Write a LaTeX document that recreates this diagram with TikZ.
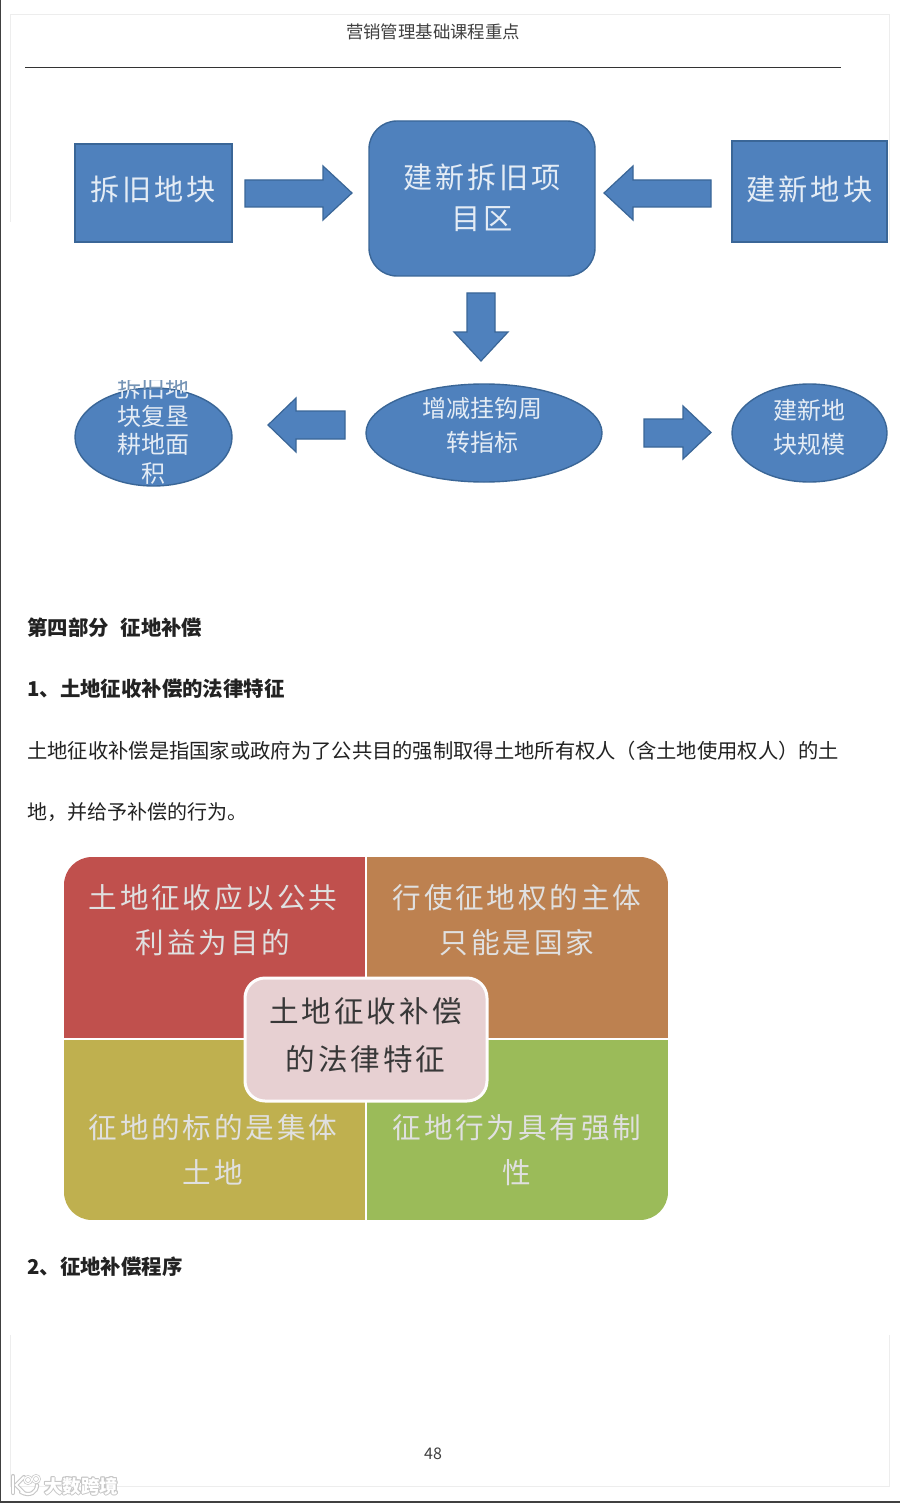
\documentclass[tikz,border=0pt]{standalone}
\usepackage{fontspec}
\setmainfont{Noto Sans CJK SC}
\newfontfamily\spaced[LetterSpace=10]{Noto Sans CJK SC}
\usetikzlibrary{shapes.geometric}
\definecolor{blueF}{HTML}{4F81BD}
\definecolor{blueD}{HTML}{3A6697}
\definecolor{soft}{HTML}{E4ECF5}
\definecolor{qred}{HTML}{C0504D}
\definecolor{qorange}{HTML}{BD8150}
\definecolor{qolive}{HTML}{BFB04F}
\definecolor{qgreen}{HTML}{9BBB59}
\definecolor{qcentre}{HTML}{E7D0D2}
\definecolor{ink}{HTML}{222222}
\definecolor{faint}{HTML}{EDEDED}
\tikzset{
  x=1pt,y=-1pt,
  blockbox/.style={fill=blueF,draw=blueD,line width=1.4pt},
  blockarrow/.style={fill=blueF,draw=blueD,line width=1.2pt,line join=miter},
  labeltext/.style={inner sep=0pt,text=soft,align=center},
  bigtext/.style={labeltext,font=\fontsize{29.2}{41}\selectfont\spaced},
  smalltext/.style={labeltext,font=\fontsize{24}{34}\selectfont},
  quadtext/.style={inner sep=0pt,text=white!88!black,align=center,font=\fontsize{28.6}{45}\selectfont\spaced},
  bodytext/.style={inner sep=0pt,anchor=west,text=ink,font=\fontsize{20}{24}\selectfont},
  headtext/.style={inner sep=0pt,anchor=west,text=ink,font=\fontsize{20.4}{24}\selectfont\bfseries},
  pagetext/.style={inner sep=0pt,text=black!75,font=\fontsize{17.4}{20}\selectfont},
  marktext/.style={inner sep=0pt,font=\fontsize{18.5}{20}\selectfont\bfseries},
}
\begin{document}
\begin{tikzpicture}
\useasboundingbox (0,0) rectangle (900,1503);
\fill[white] (0,0) rectangle (900,1503);
% page edges
\draw[faint,line width=.8pt] (10,222) -- (10,14) -- (889,14) -- (889,240);
\draw[faint,line width=.8pt] (10,1335) -- (10,1486) -- (889,1486) -- (889,1335);
\draw[black!75,line width=1.6pt] (.5,0) -- (.5,1503);
\draw[black!75,line width=1.6pt] (0,1502) -- (900,1502);
% header
\node[pagetext] (title) at (433,32) {营销管理基础课程重点};
\coordinate (ruleL) at (25,68);
\coordinate (ruleR) at (841,68);
\draw[black!80,line width=1pt] (ruleL) -- (ruleR);
% top flow boxes
\node[blockbox,minimum width=157pt,minimum height=98pt,inner sep=0pt] (oldplot) at (153.5,193) {};
\node[bigtext] (oldplotT) at (153,189.5) {拆旧地块};
\node[blockbox,rounded corners=28pt,minimum width=226pt,minimum height=155pt,inner sep=0pt] (project) at (482,198.5) {};
\node[bigtext] (projectT) at (482,197.5) {建新拆旧项\\目区};
\node[blockbox,minimum width=155pt,minimum height=101pt,inner sep=0pt] (newplot) at (809.5,191.5) {};
\node[bigtext] (newplotT) at (809.5,189.5) {建新地块};
% block arrows
\draw[blockarrow] (245,180) -- (323,180) -- (323,166) -- (352,193) -- (323,220) -- (323,207) -- (245,207) -- cycle;
\draw[blockarrow] (711,180) -- (633,180) -- (633,166) -- (604,193) -- (633,220) -- (633,207) -- (711,207) -- cycle;
\draw[blockarrow] (467,293) -- (467,332) -- (454,332) -- (481,361) -- (508,332) -- (495,332) -- (495,293) -- cycle;
\draw[blockarrow] (345,411) -- (296,411) -- (296,398) -- (268,425) -- (296,452) -- (296,439) -- (345,439) -- cycle;
\draw[blockarrow] (644,419) -- (683,419) -- (683,406) -- (711,432.5) -- (683,459) -- (683,447) -- (644,447) -- cycle;
% ellipses
\node[blockbox,ellipse,minimum width=157pt,minimum height=98pt,inner sep=0pt] (reclaim) at (153.5,437) {};
\node[blockbox,ellipse,minimum width=236pt,minimum height=98pt,inner sep=0pt] (quota) at (484,433) {};
\node[smalltext] (quotaT) at (482,425) {增减挂钩周\\转指标};
\node[blockbox,ellipse,minimum width=155pt,minimum height=98pt,inner sep=0pt] (scale) at (809.5,433) {};
\node[smalltext] (scaleT) at (809.5,427) {建新地\\块规模};
% clipped label of left ellipse
\begin{scope}
\clip (100,380) rectangle (205,390);
\node[smalltext,text=blueD!70!white] (reclaimA) at (153,388) {拆旧地};
\end{scope}
\begin{scope}
\clip (100,390) rectangle (205,486);
\node[smalltext] (reclaimB) at (153,388) {拆旧地};
\end{scope}
\node[smalltext,font=\fontsize{24}{28}\selectfont] (reclaimC) at (153,430) {块复垦\\耕地面};
\begin{scope}
\clip (100,458) rectangle (205,486);
\node[smalltext] (reclaimD) at (153,473) {积};
\end{scope}
% text
\node[headtext] (part) at (27,628) {第四部分\hspace{12pt}征地补偿};
\node[headtext] (h1) at (27,689) {1、土地征收补偿的法律特征};
\node[bodytext,font=\fontsize{20.3}{24}\selectfont] (p1) at (27,751) {土地征收补偿是指国家或政府为了公共目的强制取得土地所有权人（含土地使用权人）的土};
\node[bodytext] (p2) at (27,812) {地，并给予补偿的行为。};
\node[headtext] (h2) at (27,1267) {2、征地补偿程序};
% quadrants
\begin{scope}
\clip[rounded corners=28pt] (64,857) rectangle (668,1220);
\fill[qred] (64,857) rectangle (364.5,1037.5);
\fill[qorange] (367,857) rectangle (668,1037.5);
\fill[qolive] (64,1040) rectangle (364.5,1220);
\fill[qgreen] (367,1040) rectangle (668,1220);
\end{scope}
\node[quadtext] (q1) at (213,920) {土地征收应以公共\\利益为目的};
\node[quadtext] (q2) at (517,920) {行使征地权的主体\\只能是国家};
\node[quadtext] (q3) at (213,1150) {征地的标的是集体\\土地};
\node[quadtext] (q4) at (517,1150) {征地行为具有强制\\性};
\node[rounded corners=20pt,fill=qcentre,draw=white!95!qcentre,line width=3pt,minimum width=242pt,minimum height=123pt,inner sep=0pt] (centre) at (366,1039.5) {};
\node[inner sep=0pt,align=center,text=black!78,font=\fontsize{29.6}{48}\selectfont\spaced] (centreT) at (365.5,1035.5) {土地征收补偿\\的法律特征};
% footer
\node[pagetext,font=\fontsize{16}{18}\selectfont] (pageno) at (433,1454) {48};
% watermark
\begin{scope}[line cap=round]
\foreach \w/\c in {4.2/black!22,2/white}{
  \draw[\c,line width=\w pt] (13,1476) -- (13,1493);
  \draw[\c,line width=\w pt] (24,1477) -- (16,1485) -- (24,1493);
  \draw[\c,line width=\w pt] (21,1492) .. controls (30,1497) and (37,1492) .. (37,1485);
  \draw[\c,line width=.6*\w pt] (28,1480) circle[radius=3.6];
  \draw[\c,line width=.6*\w pt] (36,1479) circle[radius=3.6];
}
\end{scope}
\foreach \dx/\dy [count=\i] in {-1/0,1/0,0/-1,0/1,-.8/-.8,.8/.8,-.8/.8,.8/-.8}{
  \node[marktext,text=black!22] (markH\i) at (81+\dx,1486+\dy) {大数跨境};
}
\node[marktext,text=white] (mark) at (81,1486) {大数跨境};
\end{tikzpicture}
\end{document}
